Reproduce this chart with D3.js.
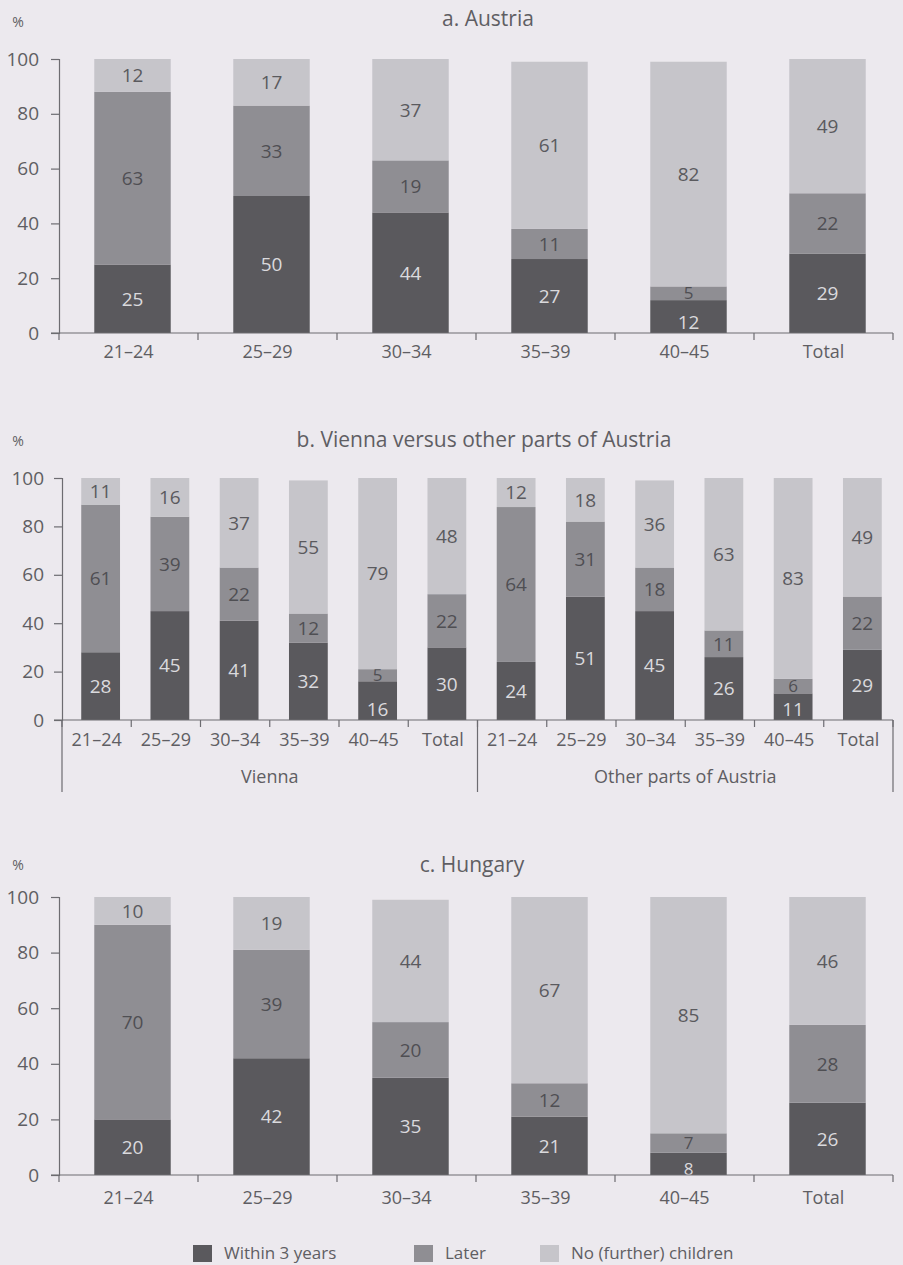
<!DOCTYPE html>
<html>
<head>
<meta charset="utf-8">
<script src="https://cdn.jsdelivr.net/npm/d3@7"></script>
<style>
  html, body { margin: 0; padding: 0; background: #ece9ee; }
  svg { display: block; font-family: "Open Sans", "DejaVu Sans", sans-serif; }
</style>
</head>
<body>
<svg id="chart" width="903" height="1265"></svg>
<script>
// ---------------- DATA ----------------
const ageGroups = ["21–24", "25–29", "30–34", "35–39", "40–45", "Total"];
const seriesNames = ["Within 3 years", "Later", "No (further) children"];
const yTicks = [0, 20, 40, 60, 80, 100];

const austriaWithin = [25, 50, 44, 27, 12, 29];
const austriaLater  = [63, 33, 19, 11, 5, 22];
const austriaNo     = [12, 17, 37, 61, 82, 49];

const viennaWithin = [28, 45, 41, 32, 16, 30];
const viennaLater  = [61, 39, 22, 12, 5, 22];
const viennaNo     = [11, 16, 37, 55, 79, 48];

const otherWithin = [24, 51, 45, 26, 11, 29];
const otherLater  = [64, 31, 18, 11, 6, 22];
const otherNo     = [12, 18, 36, 63, 83, 49];

const hungaryWithin = [20, 42, 35, 21, 8, 26];
const hungaryLater  = [70, 39, 20, 12, 7, 28];
const hungaryNo     = [10, 19, 44, 67, 85, 46];

const panelTitles = ["a. Austria", "b. Vienna versus other parts of Austria", "c. Hungary"];
const regionNames = ["Vienna", "Other parts of Austria"];

// ---------------- STYLE ----------------
const colors = ["#5a595d", "#8f8e93", "#c6c5ca"];
const labelColors = ["#dadadd", "#4f4f53", "#5a5a5e"];
const axisColor = "#6d6c71";
const textColor = "#5f5e63";

const svg = d3.select("#chart");

function buildRows(keys, within, later, no) {
  return keys.map((k, i) => ({ key: k, within: within[i], later: later[i], no: no[i] }));
}

function drawPanel(opt) {
  const g = svg.append("g");
  const x = d3.scaleBand().domain(opt.rows.map(d => d.key))
    .range([opt.left, opt.right]).paddingInner(opt.pad).paddingOuter(opt.pad / 2);
  const y = d3.scaleLinear().domain([0, 100]).range([opt.bottom, opt.top]);
  const off = opt.barShift;

  g.append("text").attr("x", opt.titleX).attr("y", opt.titleY)
    .attr("text-anchor", "middle").attr("font-size", 21).attr("fill", textColor)
    .text(opt.title);
  g.append("text").attr("x", 18).attr("y", opt.pctY)
    .attr("text-anchor", "middle").attr("font-size", 14).attr("fill", textColor)
    .text("%");

  const stack = d3.stack().keys(["within", "later", "no"]);
  const layers = stack(opt.rows);
  layers.forEach((layer, li) => {
    const lg = g.append("g");
    lg.selectAll("rect").data(layer).join("rect")
      .attr("x", d => x(d.data.key) + off)
      .attr("width", x.bandwidth())
      .attr("y", d => y(d[1]))
      .attr("height", d => y(d[0]) - y(d[1]))
      .attr("fill", colors[li]);
    lg.selectAll("text").data(layer).join("text")
      .attr("x", d => x(d.data.key) + off + x.bandwidth() / 2)
      .attr("y", d => {
        const c = y((d[0] + d[1]) / 2);
        const v = d[1] - d[0];
        if (li === 0 && v < 10) return opt.bottom - 6;
        if (li === 0 && v < 18) return Math.max(c, opt.bottom - 11);
        return c;
      })
      .attr("dy", "0.36em")
      .attr("text-anchor", "middle")
      .attr("font-size", d => (d[1] - d[0] < 10 ? 17 : opt.valueSize))
      .attr("fill", labelColors[li])
      .text(d => d[1] - d[0]);
  });

  const yAxis = d3.axisLeft(y).tickValues(yTicks).tickSize(8).tickPadding(opt.tickPad).tickSizeOuter(8);
  const ya = g.append("g").attr("transform", `translate(${opt.left},0)`).call(yAxis);
  ya.select(".domain").attr("stroke", axisColor).attr("stroke-width", 1.2);
  ya.selectAll(".tick line").attr("stroke", axisColor).attr("stroke-width", 1.2);
  ya.selectAll(".tick text").attr("font-size", 19).attr("fill", textColor)
    .attr("font-family", "'Open Sans', sans-serif");

  g.append("line").attr("x1", opt.left - 8).attr("x2", opt.right)
    .attr("y1", opt.bottom).attr("y2", opt.bottom)
    .attr("stroke", axisColor).attr("stroke-width", 1.2);

  const step = x.step();
  const bounds = d3.range(opt.rows.length + 1).map(i => opt.left + i * step);
  g.selectAll(".bt").data(bounds).join("line")
    .attr("x1", d => d).attr("x2", d => d)
    .attr("y1", opt.bottom).attr("y2", opt.bottom + 7)
    .attr("stroke", axisColor).attr("stroke-width", 1.2);

  const xAxis = d3.axisBottom(x).tickSize(0).tickPadding(0).tickFormat(opt.fmt || (d => d));
  const xa = g.append("g").attr("transform", `translate(0,${opt.bottom})`).call(xAxis);
  xa.select(".domain").remove();
  xa.selectAll(".tick text").attr("font-size", opt.catSize).attr("fill", textColor)
    .attr("font-family", "'Open Sans', sans-serif")
    .attr("dy", null).attr("y", opt.catOffset);

  return { g, x, y, bounds };
}

// Panel a
drawPanel({
  rows: buildRows(ageGroups, austriaWithin, austriaLater, austriaNo),
  left: 59, right: 893, top: 59, bottom: 333, pad: 0.45, barShift: 4,
  title: panelTitles[0], titleX: 488, titleY: 26, pctY: 27,
  tickPad: 12, valueSize: 19, catSize: 18, catOffset: 25
});

// Panel b
const bKeys = regionNames.flatMap((r, ri) => ageGroups.map(a => ri + "|" + a));
const bRows = buildRows(bKeys,
  viennaWithin.concat(otherWithin),
  viennaLater.concat(otherLater),
  viennaNo.concat(otherNo));
const pb = drawPanel({
  rows: bRows,
  left: 62, right: 893, top: 478, bottom: 720, pad: 0.44, barShift: 4,
  title: panelTitles[1], titleX: 484, titleY: 447, pctY: 446,
  tickPad: 10, valueSize: 19, catSize: 18, catOffset: 26,
  fmt: d => d.split("|")[1]
});
const sepX = [pb.bounds[0], pb.bounds[6], pb.bounds[12]];
pb.g.selectAll(".sep").data(sepX).join("line")
  .attr("x1", d => d).attr("x2", d => d)
  .attr("y1", 720).attr("y2", 792)
  .attr("stroke", axisColor).attr("stroke-width", 1.2);
pb.g.selectAll(".region").data(regionNames).join("text")
  .attr("x", (d, i) => (sepX[i] + sepX[i + 1]) / 2)
  .attr("y", 783)
  .attr("text-anchor", "middle").attr("font-size", 18).attr("fill", textColor)
  .text(d => d);

// Panel c
drawPanel({
  rows: buildRows(ageGroups, hungaryWithin, hungaryLater, hungaryNo),
  left: 59, right: 893, top: 897, bottom: 1175, pad: 0.45, barShift: 4,
  title: panelTitles[2], titleX: 472, titleY: 872, pctY: 870,
  tickPad: 12, valueSize: 19, catSize: 18, catOffset: 29
});

// Legend
const legendX = [193, 414, 540];
const lgd = svg.append("g");
seriesNames.forEach((name, i) => {
  lgd.append("rect").attr("x", legendX[i]).attr("y", 1245)
    .attr("width", 19).attr("height", 17).attr("fill", colors[i]);
  lgd.append("text").attr("x", legendX[i] + 31).attr("y", 1259)
    .attr("font-size", 17).attr("fill", textColor).text(name);
});
</script>
</body>
</html>
